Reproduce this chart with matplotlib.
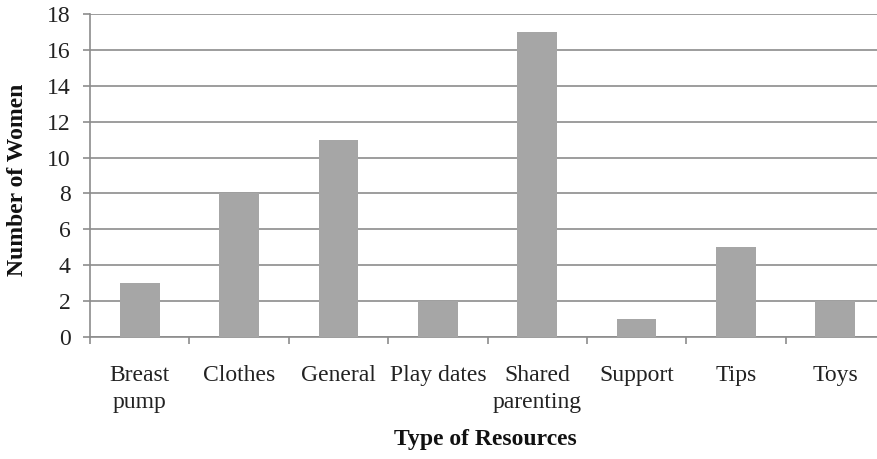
import numpy as np
import matplotlib
matplotlib.use("Agg")
import matplotlib.pyplot as plt

categories = ["Breast\npump", "Clothes", "General", "Play dates", "Shared\nparenting",
              "Support", "Tips", "Toys"]
women = [3, 8, 11, 2, 17, 1, 5, 2]
yticks = [0, 2, 4, 6, 8, 10, 12, 14, 16, 18]

plt.rcParams['font.family'] = ['Liberation Serif', 'DejaVu Serif']
plt.rcParams['font.size'] = 17

fig = plt.figure(figsize=(8.77, 4.59), dpi=100)
# axes right edge runs slightly past the image, as in the reference
ax = fig.add_axes([90 / 877, (459 - 337) / 459, 795 / 877, 323 / 459])

x = np.arange(len(categories))
ax.bar(x, women, width=0.4, color='#a6a6a6', zorder=3)

ax.set_xlim(-0.5, len(categories) - 0.5)
ax.set_ylim(0, 18)
ax.set_yticks(yticks)
ax.yaxis.grid(True, color='#8c8c8c', linewidth=1.2, zorder=0)

ax.set_xticks(np.arange(len(categories) + 1) - 0.5)
ax.set_xticklabels([])
ax.set_xticks(x, minor=True)
ax.set_xticklabels(categories, minor=True, color='#222222', linespacing=1.4)
ax.tick_params(axis='x', which='major', length=5, width=1.2, color='#8c8c8c', direction='out')
ax.tick_params(axis='x', which='minor', length=0, pad=20)
ax.tick_params(axis='y', length=5, width=1.2, color='#8c8c8c', pad=9, labelcolor='#222222')

for s in ['top', 'right']:
    ax.spines[s].set_visible(False)
for s in ['left', 'bottom']:
    ax.spines[s].set_color('#8c8c8c')
    ax.spines[s].set_linewidth(1.2)

fig.text(485 / 877, 1 - 440 / 459, "Type of Resources", ha='center', va='center',
         fontweight='bold', color='#111111')
fig.text(18 / 877, 1 - 180 / 459, "Number of Women", ha='center', va='center',
         rotation=90, fontweight='bold', color='#111111')

fig.savefig("out.png", dpi=100)
